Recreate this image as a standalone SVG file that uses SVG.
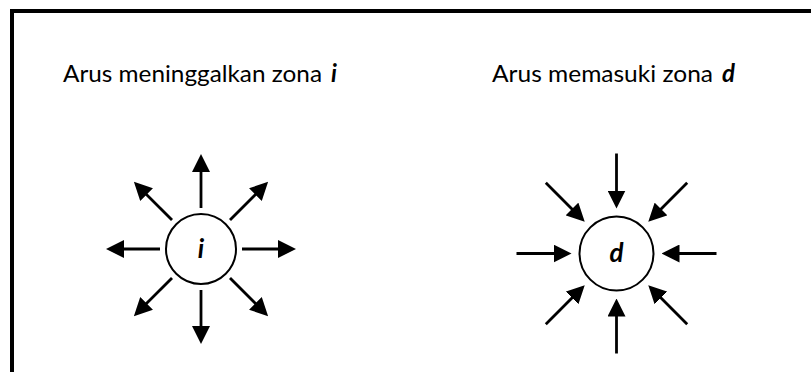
<svg xmlns="http://www.w3.org/2000/svg" width="811" height="372" viewBox="0 0 811 372">
  <style>
    .label { font-family: Lato, "Open Sans", sans-serif; font-size: 24px; fill: #000; }
    .var { font-weight: bold; font-style: italic; }
    .inner { font-size: 26px; }
    .zone { fill: #fff; stroke: #000; stroke-width: 2; }
    .flow { stroke: #000; stroke-width: 2.8; fill: none; marker-end: url(#head); }
  </style>
  <defs>
    <marker id="head" viewBox="0 0 18 18" refX="14" refY="9" markerWidth="18" markerHeight="18" markerUnits="userSpaceOnUse" orient="auto">
      <path d="M0,0 L18,9 L0,18 z" fill="#000"/>
    </marker>
  </defs>

  <rect width="811" height="372" fill="#fff"/>
  <!-- outer frame, open to the right and bottom -->
  <rect x="12" y="11" width="820" height="380" fill="none" stroke="#000" stroke-width="4"/>

  <g id="title-out">
    <text class="label" x="63" y="82" textLength="259" lengthAdjust="spacingAndGlyphs">Arus meninggalkan zona</text>
    <text class="label var" x="331" y="82">i</text>
  </g>
  <g id="title-in">
    <text class="label" x="492" y="82" textLength="221" lengthAdjust="spacingAndGlyphs">Arus memasuki zona</text>
    <text class="label var" x="722" y="82">d</text>
  </g>

  <g id="zone-i">
    <circle class="zone" cx="201" cy="249" r="35"/>
    <text class="label var inner" x="201" y="258" text-anchor="middle">i</text>
  </g>
  <g id="zone-d">
    <circle class="zone" cx="616.5" cy="253.5" r="37"/>
    <text class="label var inner" x="616.5" y="262" text-anchor="middle">d</text>
  </g>

  <g id="connectors">
    <!-- outgoing from i -->
    <line class="flow" x1="201" y1="208" x2="201" y2="158"/>
    <line class="flow" x1="201" y1="290" x2="201" y2="340"/>
    <line class="flow" x1="160" y1="249" x2="110" y2="249"/>
    <line class="flow" x1="242" y1="249" x2="292" y2="249"/>
    <line class="flow" x1="230" y1="220" x2="265.3" y2="184.7"/>
    <line class="flow" x1="172" y1="220" x2="136.7" y2="184.7"/>
    <line class="flow" x1="230" y1="278" x2="265.3" y2="313.3"/>
    <line class="flow" x1="172" y1="278" x2="136.7" y2="313.3"/>
    <!-- incoming to d -->
    <line class="flow" x1="616.5" y1="153.5" x2="616.5" y2="204.5"/>
    <line class="flow" x1="616.5" y1="353.5" x2="616.5" y2="302.5"/>
    <line class="flow" x1="516.5" y1="253.5" x2="567.5" y2="253.5"/>
    <line class="flow" x1="716.5" y1="253.5" x2="665.5" y2="253.5"/>
    <line class="flow" x1="545.8" y1="182.8" x2="581.9" y2="218.9"/>
    <line class="flow" x1="687.2" y1="182.8" x2="651.1" y2="218.9"/>
    <line class="flow" x1="545.8" y1="324.2" x2="581.9" y2="288.1"/>
    <line class="flow" x1="687.2" y1="324.2" x2="651.1" y2="288.1"/>
  </g>
</svg>
